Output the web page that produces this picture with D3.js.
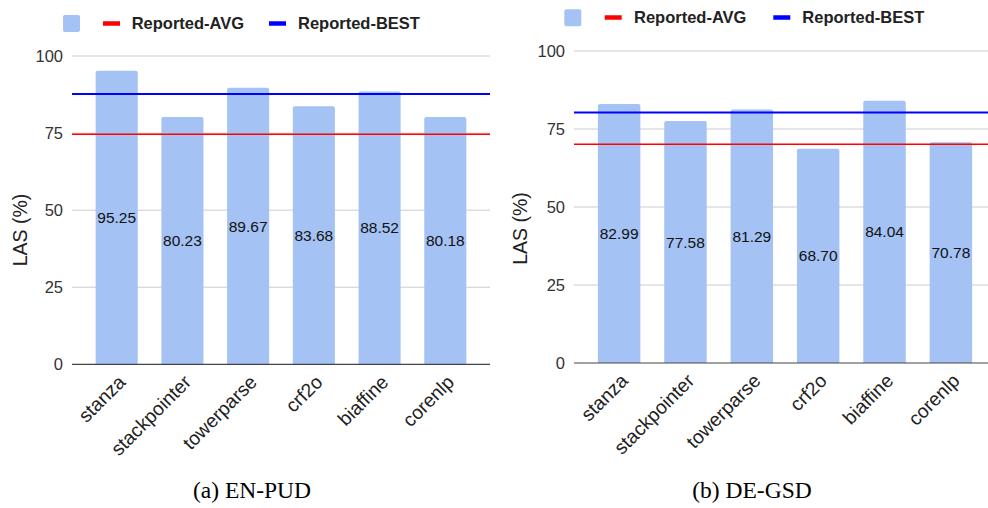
<!DOCTYPE html>
<html><head><meta charset="utf-8">
<script src="https://cdn.jsdelivr.net/npm/d3@7"></script>
<style>body{margin:0;background:#fff}svg{display:block}</style>
</head><body>
<svg id="c" width="988" height="508"></svg>
<script>
const categories = ["stanza","stackpointer","towerparse","crf2o","biaffine","corenlp"];
const enValues = [95.25, 80.23, 89.67, 83.68, 88.52, 80.18];
const deValues = [82.99, 77.58, 81.29, 68.70, 84.04, 70.78];
const enAvg = 74.6, enBest = 87.7;
const deAvg = 70.1, deBest = 80.3;
const yTicks = [0, 25, 50, 75, 100];
const legendLabels = ["Reported-AVG", "Reported-BEST"];
const captions = ["(a) EN-PUD", "(b) DE-GSD"];
const yTitle = "LAS (%)";

const svg = d3.select("#c");
const SANS = "'Liberation Sans', Arial, sans-serif";
const BAR = "#a4c2f4", RED = "#ff0000", BLUE = "#0000ff";

const panels = [
  {values: enValues, avg: enAvg, best: enBest, caption: captions[0],
   x0: 72, x1: 490, gridEnd: 490, y0: 364.3, y1: 56, capX: 252,
   titleX: 26.5, titleY: 230,
   leg: {sq: 63, sqY: 15, red: 103, redT: 131.7, blue: 269, blueT: 298, y: 23.5, base: 29}},
  {values: deValues, avg: deAvg, best: deBest, caption: captions[1],
   x0: 574, x1: 996, gridEnd: 988, y0: 363, y1: 51, capX: 752,
   titleX: 526.5, titleY: 228.5,
   leg: {sq: 564.3, sqY: 9.3, red: 604.7, redT: 634, blue: 773.3, blueT: 802.3, y: 17.5, base: 23.2}}
];

panels.forEach(p => {
  const g = svg.append("g");
  const x = d3.scaleBand().domain(categories).range([p.x0, p.x1]).paddingInner(0.36).paddingOuter(0.36);
  const y = d3.scaleLinear().domain([0, 100]).range([p.y0, p.y1]);

  // gridlines
  g.selectAll(".grid").data(yTicks.filter(t => t > 0)).join("line")
    .attr("x1", p.x0).attr("x2", p.gridEnd)
    .attr("y1", d => y(d)).attr("y2", d => y(d))
    .attr("stroke", "#cccccc").attr("stroke-width", 1);

  // tick labels
  g.selectAll(".tick").data(yTicks).join("text")
    .attr("x", p.x0 - 9).attr("y", d => y(d)).attr("dy", "0.36em")
    .attr("text-anchor", "end").attr("font-family", SANS).attr("font-size", 16.5)
    .attr("fill", "#333").text(d => d);

  // bars
  g.selectAll(".bar").data(p.values).join("path")
    .attr("fill", BAR)
    .attr("d", (d, i) => {
      const bx = x(categories[i]), bw = x.bandwidth(), by = y(d), bb = y(0), r = 2;
      return `M${bx},${bb}V${by + r}Q${bx},${by} ${bx + r},${by}H${bx + bw - r}Q${bx + bw},${by} ${bx + bw},${by + r}V${bb}Z`;
    });

  // baseline
  g.append("line").attr("x1", p.x0).attr("x2", p.gridEnd)
    .attr("y1", y(0)).attr("y2", y(0)).attr("stroke", "#444").attr("stroke-width", 1.2);

  // reference lines
  g.append("line").attr("x1", p.x0).attr("x2", p.gridEnd)
    .attr("y1", y(p.avg)).attr("y2", y(p.avg)).attr("stroke", RED).attr("stroke-width", 1.5);
  g.append("line").attr("x1", p.x0).attr("x2", p.gridEnd)
    .attr("y1", y(p.best)).attr("y2", y(p.best)).attr("stroke", BLUE).attr("stroke-width", 2);

  // value labels
  g.selectAll(".val").data(p.values).join("text")
    .attr("x", (d, i) => x(categories[i]) + x.bandwidth() / 2)
    .attr("y", d => (y(d) + y(0)) / 2).attr("dy", "0.36em")
    .attr("text-anchor", "middle").attr("font-family", SANS).attr("font-size", 15.5)
    .attr("fill", "#111").text(d => d.toFixed(2));

  // category labels
  g.selectAll(".cat").data(categories).join("text")
    .attr("transform", d => `translate(${x(d) + x.bandwidth() / 2 + 10},${y(0) + 19}) rotate(-45)`)
    .attr("text-anchor", "end").attr("font-family", SANS).attr("font-size", 19.3)
    .attr("fill", "#222").text(d => d);

  // y title
  g.append("text").attr("transform", `translate(${p.titleX},${p.titleY}) rotate(-90)`)
    .attr("text-anchor", "middle").attr("font-family", SANS).attr("font-size", 19.5)
    .attr("fill", "#222").text(yTitle);

  // legend
  const L = p.leg;
  g.append("rect").attr("x", L.sq).attr("y", L.sqY).attr("width", 17).attr("height", 17)
    .attr("rx", 2).attr("fill", BAR);
  g.append("rect").attr("x", L.red).attr("y", L.y - 2.25).attr("width", 17).attr("height", 4.5).attr("fill", RED);
  g.append("rect").attr("x", L.blue).attr("y", L.y - 2.25).attr("width", 17).attr("height", 4.5).attr("fill", BLUE);
  g.append("text").attr("x", L.redT).attr("y", L.base).attr("font-family", SANS).attr("font-weight", "bold")
    .attr("font-size", 16.5).attr("fill", "#222").text(legendLabels[0]);
  g.append("text").attr("x", L.blueT).attr("y", L.base).attr("font-family", SANS).attr("font-weight", "bold")
    .attr("font-size", 16.5).attr("fill", "#222").text(legendLabels[1]);

  // caption
  svg.append("text").attr("x", p.capX).attr("y", 498).attr("text-anchor", "middle")
    .attr("font-family", "'Liberation Serif', 'Times New Roman', serif").attr("font-size", 23.5)
    .attr("fill", "#000").text(p.caption);
});
</script>
</body></html>
